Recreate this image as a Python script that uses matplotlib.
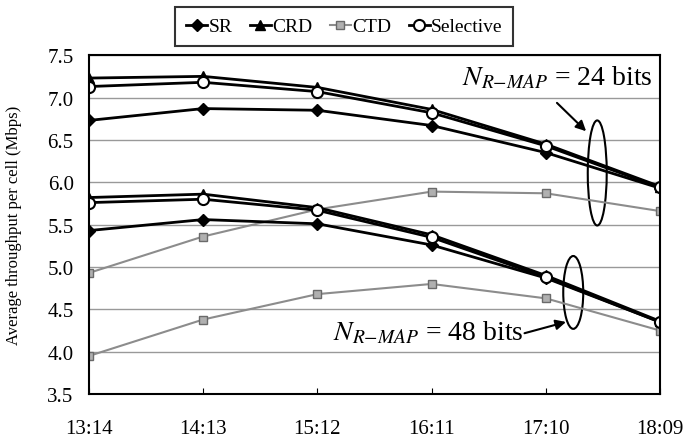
import numpy as np
import matplotlib.pyplot as plt
from matplotlib.patches import Ellipse

plt.rcParams['font.family'] = 'Liberation Serif'
plt.rcParams['mathtext.fontset'] = 'stix'

ratios = ["13:14", "14:13", "15:12", "16:11", "17:10", "18:09"]

# N_R-MAP = 24 bits
sr_24 = [6.73, 6.87, 6.85, 6.67, 6.35, 5.93]
crd_24 = [7.23, 7.25, 7.12, 6.86, 6.45, 5.95]
ctd_24 = [4.93, 5.36, 5.68, 5.89, 5.87, 5.66]
sel_24 = [7.13, 7.18, 7.07, 6.82, 6.43, 5.94]

# N_R-MAP = 48 bits
sr_48 = [5.43, 5.56, 5.51, 5.26, 4.87, 4.35]
crd_48 = [5.82, 5.86, 5.70, 5.38, 4.90, 4.36]
ctd_48 = [3.95, 4.38, 4.68, 4.80, 4.63, 4.25]
sel_48 = [5.76, 5.80, 5.67, 5.35, 4.88, 4.35]

x = np.arange(len(ratios))

fig = plt.figure(figsize=(6.84, 4.39), dpi=100)
ax = fig.add_axes([0.130, 0.100, 0.835, 0.772])

ax.yaxis.grid(True, color='#999999', lw=1)
ax.set_axisbelow(True)

sr_style = dict(color='black', lw=2, marker='D', ms=6)
crd_style = dict(color='black', lw=2, marker='^', ms=7)
ctd_style = dict(color='#8c8c8c', lw=1.5, marker='s', ms=6, mfc='#b0b0b0', mec='#6a6a6a')
sel_style = dict(color='black', lw=2, marker='o', ms=8, mfc='white', mew=1.5)

ax.plot(x, sr_24, label='SR', **sr_style)
ax.plot(x, crd_24, label='CRD', **crd_style)
ax.plot(x, ctd_24, label='CTD', **ctd_style)
ax.plot(x, sel_24, label='Selective', **sel_style)
ax.plot(x, sr_48, **sr_style)
ax.plot(x, crd_48, **crd_style)
ax.plot(x, ctd_48, **ctd_style)
ax.plot(x, sel_48, **sel_style)

ax.set_xlim(0, len(ratios) - 1)
ax.set_ylim(3.5, 7.5)
ax.set_xticks(x)
ax.set_xticklabels(ratios)
ax.set_yticks(np.arange(3.5, 7.51, 0.5))
ax.yaxis.set_major_formatter(plt.FormatStrFormatter('%.1f'))
ax.tick_params(axis='both', labelsize=15, length=0)
ax.tick_params(axis='y', pad=11)
ax.tick_params(axis='x', direction='in', length=4, pad=18)
for s in ax.spines.values():
    s.set_linewidth(1.5)
ax.set_ylabel('Average throughput per cell (Mbps)', fontsize=12)
ax.yaxis.set_label_coords(-0.117, 0.5)

# annotations
ax.add_patch(Ellipse((4.45, 6.11), 0.166, 1.24, fill=False, lw=1.5, color='black'))
ax.add_patch(Ellipse((4.24, 4.70), 0.175, 0.86, fill=False, lw=1.5, color='black'))
ax.text(3.27, 7.16, r'$N_{R\mathrm{-}MAP}$ = 24 bits', fontsize=20, va='baseline', ha='left')
ax.text(2.14, 4.15, r'$N_{R\mathrm{-}MAP}$ = 48 bits', fontsize=20, va='baseline', ha='left')
ax.annotate('', xy=(4.37, 6.58), xytext=(4.08, 6.96),
            arrowprops=dict(arrowstyle='-|>', color='black', lw=1.5, mutation_scale=15))
ax.annotate('', xy=(4.20, 4.36), xytext=(3.79, 4.21),
            arrowprops=dict(arrowstyle='-|>', color='black', lw=1.5, mutation_scale=15))

leg = ax.legend(loc='lower center', bbox_to_anchor=(0.447, 1.027), ncol=4, fontsize=14,
                frameon=True, fancybox=False, edgecolor='black', handlelength=1.1,
                handletextpad=0.05, columnspacing=0.9, borderpad=0.55, borderaxespad=0)
leg.get_frame().set_linewidth(1.5)

fig.savefig('out.png', dpi=100)
